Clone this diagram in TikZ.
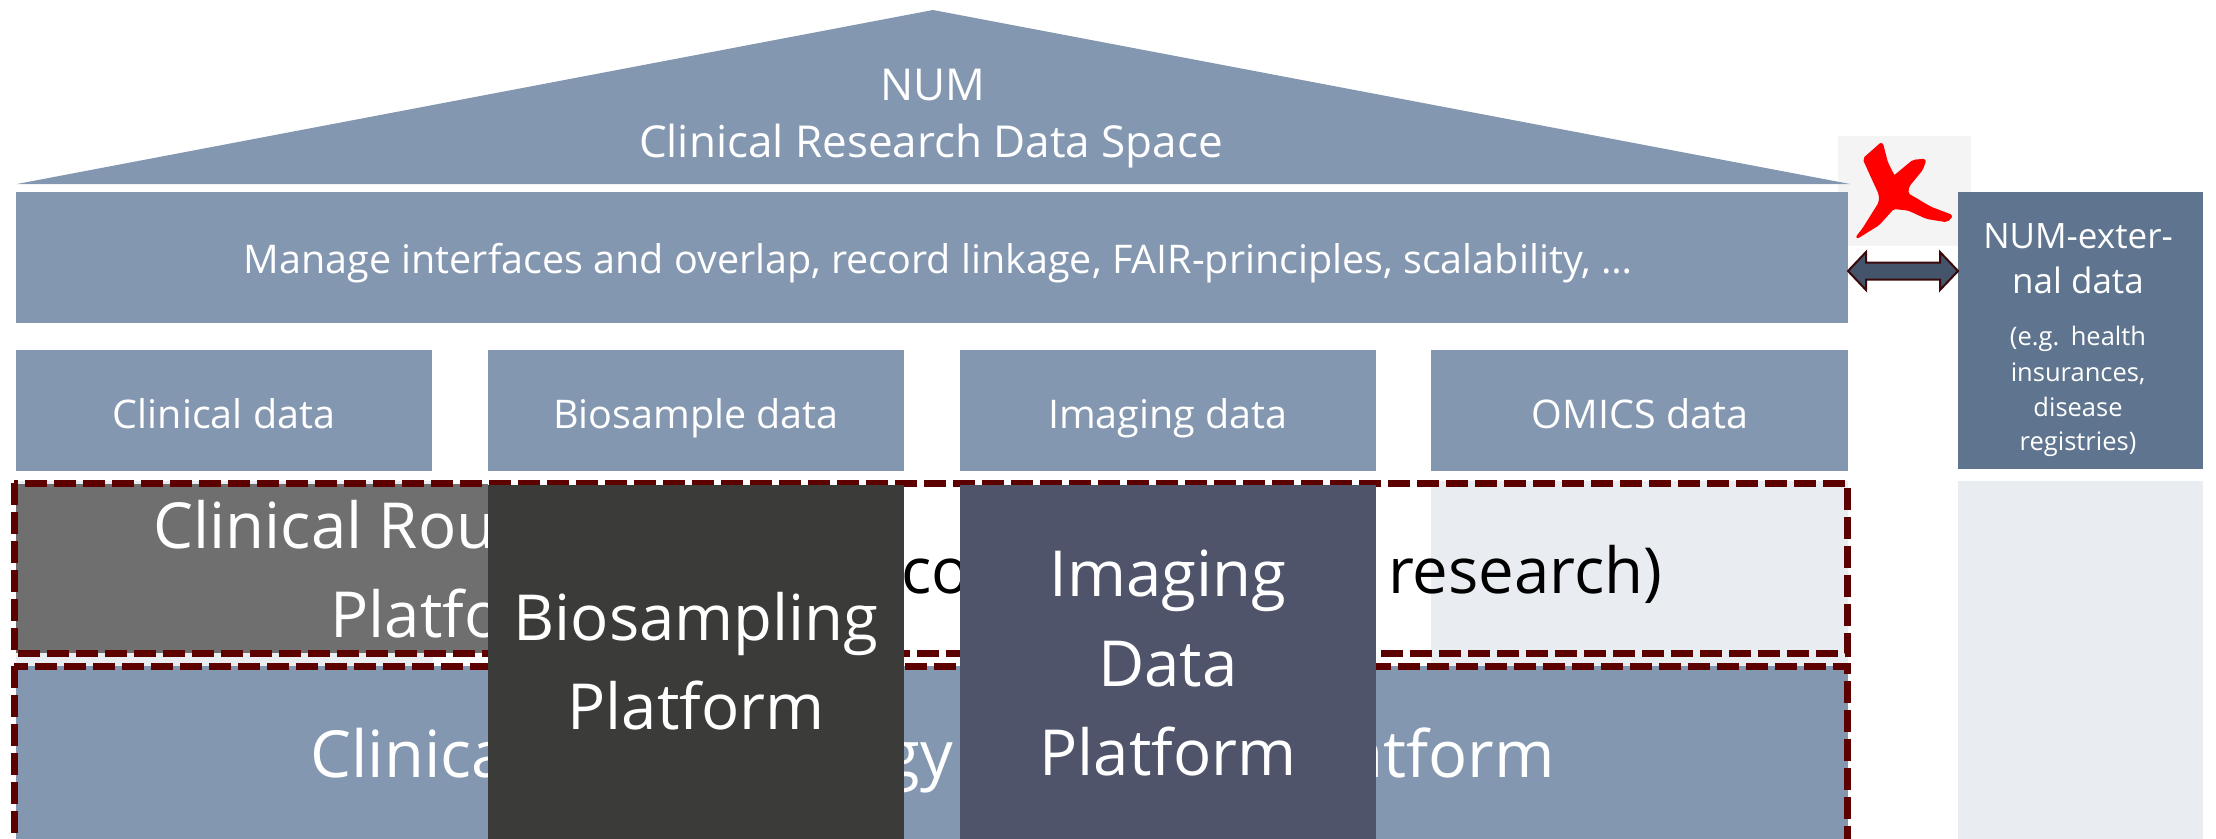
\documentclass[tikz,border=0pt]{standalone}
\usepackage{fontspec}
\setmainfont{Open Sans}
\usetikzlibrary{calc}
\definecolor{bluegray}{HTML}{8497B0}
\definecolor{extbox}{HTML}{5F758F}
\definecolor{lightcol}{HTML}{E9ECF1}
\definecolor{routgray}{HTML}{6F6F6F}
\definecolor{biodark}{HTML}{3B3B39}
\definecolor{imgdark}{HTML}{4F546B}
\definecolor{dred}{HTML}{5C0000}
\definecolor{xred}{HTML}{FF0000}
\definecolor{xbg}{HTML}{F4F4F4}
\definecolor{arrfill}{HTML}{44546A}
\definecolor{arrline}{HTML}{3A0A0A}
\newcommand\fRoof{\fontsize{44}{53}\selectfont}
\newcommand\fMid{\fontsize{39.5}{47}\selectfont}
\newcommand\fPlat{\fontsize{63.5}{89}\selectfont}
\newcommand\fTerm{\fontsize{65}{78}\selectfont}
\newcommand\fExt{\fontsize{35}{45}\selectfont}
\newcommand\fExs{\fontsize{25.5}{35}\selectfont}
\begin{document}
\begin{tikzpicture}[x=1pt,y=-1pt,
  area/.style={draw=none,inner sep=0pt,outer sep=0pt,anchor=north west},
  lbl/.style={anchor=base,inner sep=0pt,text=white},
  lblw/.style={anchor=base west,inner sep=0pt},
  lble/.style={anchor=base east,inner sep=0pt},
  dashbox/.style={draw=dred,line width=7pt,dash pattern=on 22pt off 7pt}]
\useasboundingbox (0,0) rectangle (2216,838);
\clip (0,0) rectangle (2216,838);

% red X background
\node[area,fill=xbg,minimum width=133,minimum height=110] (xback) at (1838,136) {};

% roof
\fill[bluegray] (17,184) -- (933,10) -- (1850,184) -- cycle;
\node[lbl,font=\fRoof] (roof1) at (933,100) {NUM};
\node[lbl,font=\fRoof] (roof2) at (931,157) {Clinical Research Data Space};

% band
\node[area,fill=bluegray,minimum width=1832,minimum height=131] (band) at (16,192) {};
\node[lbl,font=\fMid] (bandtxt) at (938,273) {Manage interfaces and overlap, record linkage, FAIR-principles, scalability, …};

% data boxes
\node[area,fill=bluegray,minimum width=416,minimum height=121] (cd) at (16,350) {};
\node[area,fill=bluegray,minimum width=416,minimum height=121] (bd) at (488,350) {};
\node[area,fill=bluegray,minimum width=416,minimum height=121] (id) at (960,350) {};
\node[area,fill=bluegray,minimum width=417,minimum height=121] (od) at (1431,350) {};
\node[lbl,font=\fMid] (cdt) at (224,428) {Clinical data};
\node[lbl,font=\fMid] (bdt) at (696,428) {Biosample data};
\node[lbl,font=\fMid] (idt) at (1168,428) {Imaging data};
\node[lbl,font=\fMid] (odt) at (1640,428) {OMICS data};

% external box
\node[area,fill=extbox,minimum width=245,minimum height=277] (ext) at (1958,192) {};
\node[lbl,font=\fExt] (ext1) at (2078,248) {NUM-exter-};
\node[lbl,font=\fExt] (ext2) at (2078,293) {nal data};
\node[lbl,font=\fExs] (ext3) at (2078,345) {(e.g.\hspace{0.45em}health};
\node[lbl,font=\fExs] (ext4) at (2078,381) {insurances,};
\node[lbl,font=\fExs] (ext5) at (2078,416) {disease};
\node[lbl,font=\fExs] (ext6) at (2078,450) {registries)};

% light columns
\node[area,fill=lightcol,minimum width=417,minimum height=360] (colc) at (16,481) {};
\node[area,fill=lightcol,minimum width=417,minimum height=360] (colo) at (1431,481) {};
\node[area,fill=lightcol,minimum width=245,minimum height=360] (cole) at (1958,481) {};

% clinical routine platform
\node[area,fill=routgray,minimum width=472,minimum height=169] (crp) at (16,484) {};
\node[lbl,font=\fPlat] (crp1) at (459,548) {Clinical Routine Data};
\node[lbl,font=\fPlat] (crp2) at (459,637) {Platform};
\node[lblw,font=\fPlat] (crp3) at (901,593) {consent-based};
\node[lblw,font=\fPlat] (crp4) at (1388,593) {research)};

% clinical terminology platform
\node[area,fill=bluegray,minimum width=1832,minimum height=175] (ctp) at (16,666) {};
\node[lblw,font=\fTerm,text=white] (ctp1) at (310,777) {Clinical};
\node[lble,font=\fTerm,text=white] (ctp2) at (953,777) {Terminology};
\node[lble,font=\fTerm,text=white] (ctp3) at (1555,777) {Platform};

% dashed frames
\draw[dashbox] (14,483) rectangle (1847,653);
\draw[dashbox] (14,666) rectangle (1847,870);

% biosampling platform
\node[area,fill=biodark,minimum width=416,minimum height=360] (bsp) at (488,485) {};
\node[lbl,font=\fPlat] (bsp1) at (696,640) {Biosampling};
\node[lbl,font=\fPlat] (bsp2) at (696,729) {Platform};

% imaging data platform
\node[area,fill=imgdark,minimum width=416,minimum height=360] (idp) at (960,485) {};
\node[lbl,font=\fPlat] (idp1) at (1168,596) {Imaging};
\node[lbl,font=\fPlat] (idp2) at (1168,686) {Data};
\node[lbl,font=\fPlat] (idp3) at (1168,775) {Platform};

% double arrow between band and external box
\coordinate (aL) at (band.east |- 0,271);
\coordinate (aR) at (ext.west |- 0,271);
\filldraw[fill=arrfill,draw=arrline,line width=2pt,line join=miter]
  (aL) -- ($(aL)+(18,-19)$) -- ($(aL)+(18,-8.5)$) -- ($(aR)+(-18,-8.5)$)
  -- ($(aR)+(-18,-19)$) -- (aR) -- ($(aR)+(-18,19)$) -- ($(aR)+(-18,8.5)$)
  -- ($(aL)+(18,8.5)$) -- ($(aL)+(18,19)$) -- cycle;

% red X (brush stroke)
\filldraw[fill=xred,draw=xred,line width=2.5pt,line join=round,rounded corners=2pt]
  (1864,159) -- (1881.7,143.3) -- (1886.7,162.7)
  -- (1894,177) -- (1913.3,161) -- (1925,160) -- (1921.7,169.3) -- (1908,186)
  -- (1907,194) -- (1930,207.7) -- (1951.7,216) -- (1946.7,221) -- (1926.7,217.7)
  -- (1908.3,209.3) -- (1893.3,207.7) -- (1878.3,224.3) -- (1856.7,237.7)
  -- (1863.3,229.3) -- (1880,202.7) -- (1880,194) -- (1871.7,176) -- cycle;
\end{tikzpicture}
\end{document}
